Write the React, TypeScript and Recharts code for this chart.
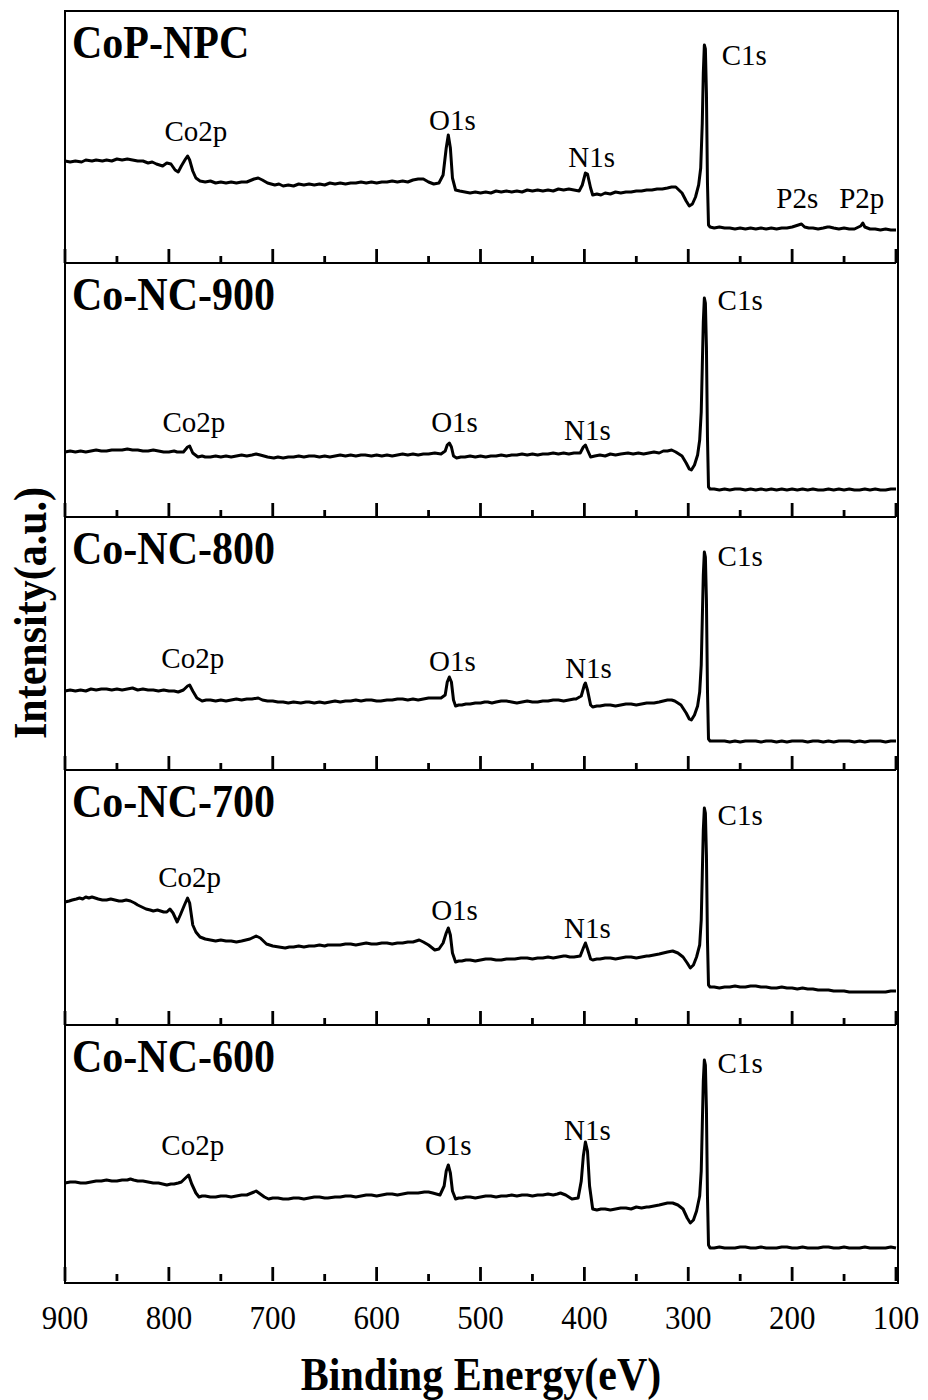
import React from 'react';
import { LineChart, Line, XAxis, YAxis, ReferenceDot } from 'recharts';

// [binding energy (eV), intensity (a.u.)]
type Pt = [number, number];
type Peak = [string, number, number];

const copNpc: Pt[] = [
  [900, 102], [895, 101], [890, 102], [884, 101], [880, 103], [874, 102], [870, 103], [864, 102],
  [860, 103], [855, 102], [850, 104], [845, 103], [840, 104], [835, 103], [830, 102], [825, 102],
  [820, 100], [816, 101], [812, 99], [806, 97], [802, 100], [798, 99], [794, 93], [791, 91],
  [788, 97], [784, 104], [782, 107], [780, 103], [777, 92], [774, 85], [770, 82], [765, 81],
  [760, 82], [755, 80], [750, 81], [745, 80], [740, 81], [735, 80], [730, 81], [725, 81],
  [718, 84], [714, 85], [710, 83], [705, 80], [698, 78], [694, 79], [690, 77], [685, 78],
  [680, 77], [675, 79], [670, 78], [665, 79], [660, 78], [655, 79], [650, 78], [645, 80],
  [640, 79], [635, 80], [630, 79], [625, 80], [620, 80], [615, 81], [610, 80], [605, 81],
  [600, 80], [595, 81], [590, 81], [585, 82], [580, 81], [575, 82], [570, 81], [565, 83],
  [560, 84], [555, 84], [550, 81], [545, 79], [540, 80], [536, 88], [533, 115], [531, 128],
  [529, 115], [527, 85], [524, 73], [520, 72], [515, 71], [510, 70], [505, 71], [500, 70],
  [495, 71], [490, 70], [485, 72], [480, 71], [475, 72], [470, 71], [465, 72], [460, 71],
  [455, 73], [450, 72], [445, 73], [440, 72], [435, 73], [430, 72], [425, 74], [420, 73],
  [415, 74], [410, 73], [405, 72], [402, 78], [399, 90], [397, 89], [394, 75], [392, 68],
  [388, 69], [384, 68], [380, 70], [375, 69], [370, 71], [365, 70], [360, 71], [355, 71],
  [350, 72], [345, 72], [340, 73], [335, 73], [330, 74], [325, 74], [320, 75], [316, 76],
  [312, 76], [306, 70], [302, 62], [299, 57], [296, 59], [293, 66], [290, 78], [288, 95],
  [286.5, 140], [285.5, 190], [284.5, 218], [283.5, 214], [282.5, 170], [281.5, 80],
  [280.5, 38], [279, 36], [275, 35], [270, 36], [265, 35], [260, 35], [255, 34], [250, 35],
  [245, 34], [240, 35], [235, 34], [230, 35], [225, 34], [220, 35], [215, 34], [210, 35],
  [205, 35], [200, 36], [194, 38], [191, 39], [188, 36], [184, 35], [180, 35], [175, 34],
  [170, 35], [166, 36], [164, 36], [160, 35], [155, 34], [150, 35], [145, 34], [140, 34],
  [134, 37], [132, 40], [130, 36], [125, 34], [120, 34], [115, 33], [110, 34], [105, 33],
  [100, 33],
];

const coNc900: Pt[] = [
  [900, 65], [895, 66], [890, 65], [885, 66], [880, 65], [875, 66], [870, 67], [865, 66],
  [860, 66], [855, 67], [850, 67], [845, 67], [840, 68], [835, 67], [830, 67], [825, 66],
  [820, 66], [815, 67], [810, 66], [805, 65], [800, 65], [795, 66], [792, 65], [786, 65],
  [782, 70], [780, 71], [777, 64], [772, 60], [768, 61], [765, 60], [760, 60], [755, 61],
  [750, 60], [745, 61], [740, 60], [735, 61], [730, 62], [725, 61], [720, 62], [716, 63],
  [712, 62], [705, 60], [699, 59], [695, 60], [690, 59], [685, 60], [680, 60], [675, 61],
  [670, 60], [665, 61], [660, 61], [655, 60], [650, 61], [645, 60], [640, 61], [635, 62],
  [630, 61], [625, 62], [620, 61], [615, 62], [611, 62], [605, 61], [600, 62], [595, 61],
  [590, 62], [585, 61], [580, 62], [575, 63], [570, 62], [565, 63], [560, 62], [555, 63],
  [550, 63], [544, 64], [538, 63], [534, 66], [532, 72], [530, 74], [528, 70], [526, 61],
  [523, 59], [519, 60], [515, 60], [510, 61], [505, 60], [500, 61], [495, 60], [490, 61],
  [485, 61], [480, 62], [475, 61], [470, 62], [465, 62], [460, 63], [455, 62], [450, 63],
  [445, 62], [440, 63], [435, 63], [430, 64], [425, 63], [420, 64], [415, 63], [410, 64],
  [404, 64], [401, 70], [399, 72], [397, 67], [394, 60], [390, 61], [385, 62], [380, 61],
  [375, 63], [370, 62], [365, 63], [358, 64], [353, 63], [348, 64], [343, 63], [338, 64],
  [333, 65], [328, 64], [324, 66], [320, 66], [316, 67], [312, 65], [306, 61], [302, 54],
  [299, 48], [297, 47], [294, 52], [291, 62], [289, 77], [287.5, 105], [286.5, 150],
  [285.5, 195], [284.5, 219], [283.5, 214], [282.5, 170], [281.5, 80], [280.5, 30], [279, 28],
  [275, 28], [270, 27], [265, 28], [260, 27], [255, 28], [250, 28], [245, 27], [240, 28],
  [235, 27], [230, 28], [225, 27], [220, 28], [215, 27], [210, 28], [205, 27], [200, 28],
  [195, 27], [190, 28], [185, 27], [180, 28], [175, 27], [170, 27], [165, 28], [160, 27],
  [155, 28], [150, 27], [145, 28], [140, 27], [135, 27], [130, 28], [125, 27], [120, 28],
  [115, 27], [110, 27], [105, 28], [100, 28],
];

const coNc800: Pt[] = [
  [900, 79], [895, 80], [890, 79], [885, 80], [880, 79], [875, 81], [870, 80], [865, 81],
  [860, 81], [855, 80], [850, 81], [845, 80], [840, 81], [835, 82], [830, 80], [825, 81],
  [820, 80], [815, 80], [810, 79], [805, 80], [800, 79], [795, 79], [791, 78], [786, 80],
  [782, 84], [780, 85], [777, 79], [773, 72], [768, 69], [764, 70], [760, 70], [755, 69],
  [750, 70], [745, 69], [740, 70], [735, 71], [730, 70], [725, 71], [720, 71], [714, 72],
  [710, 70], [705, 69], [700, 69], [695, 68], [690, 68], [685, 67], [680, 68], [673, 67],
  [668, 68], [665, 68], [660, 67], [655, 68], [650, 67], [645, 68], [640, 69], [635, 68],
  [630, 69], [625, 69], [620, 70], [615, 69], [610, 70], [605, 70], [600, 69], [596, 69],
  [590, 70], [585, 70], [580, 71], [575, 71], [570, 70], [565, 71], [560, 70], [555, 71],
  [550, 72], [544, 72], [538, 72], [534, 75], [532, 88], [530, 93], [528, 88], [526, 70],
  [524, 64], [521, 65], [518, 65], [514, 66], [510, 66], [505, 67], [500, 67], [496, 68],
  [493, 68], [489, 67], [485, 68], [480, 69], [475, 69], [470, 68], [465, 67], [460, 68],
  [455, 69], [450, 68], [445, 68], [440, 69], [435, 69], [430, 70], [425, 70], [420, 69],
  [415, 70], [410, 71], [408, 71], [403, 74], [400, 85], [399, 87], [397, 80], [394, 65],
  [392, 63], [388, 64], [385, 64], [380, 65], [375, 65], [370, 64], [365, 65], [360, 66],
  [355, 66], [350, 65], [345, 66], [340, 67], [338, 67], [333, 67], [328, 68], [324, 69],
  [320, 70], [316, 70], [313, 69], [307, 65], [302, 57], [299, 51], [297, 50], [294, 55],
  [291, 64], [289, 78], [287.5, 105], [286.5, 150], [285.5, 195], [284.5, 218], [283.5, 213],
  [282.5, 170], [281.5, 80], [280.5, 31], [279, 29], [275, 29], [270, 29], [265, 29],
  [260, 28], [255, 29], [250, 28], [245, 29], [240, 29], [235, 29], [230, 28], [225, 29],
  [220, 29], [215, 28], [210, 29], [205, 28], [200, 29], [195, 29], [190, 29], [185, 28],
  [180, 29], [175, 29], [170, 28], [165, 29], [160, 28], [155, 29], [150, 29], [145, 29],
  [140, 28], [135, 29], [130, 28], [125, 29], [120, 29], [115, 29], [110, 28], [105, 29],
  [100, 29],
];

const coNc700: Pt[] = [
  [900, 123], [896, 124], [893, 125], [889, 126], [886, 127], [883, 126], [880, 128],
  [877, 127], [874, 128], [871, 127], [868, 126], [864, 125], [860, 125], [856, 126],
  [852, 125], [848, 124], [845, 124], [841, 125], [837, 124], [833, 122], [830, 120],
  [826, 118], [822, 116], [818, 115], [815, 114], [811, 115], [808, 114], [805, 113],
  [802, 113], [799, 116], [796, 112], [792, 103], [789, 110], [785, 120], [782, 127],
  [780, 122], [777, 100], [774, 93], [770, 88], [765, 86], [760, 85], [755, 84], [750, 85],
  [745, 84], [740, 84], [735, 83], [730, 84], [726, 85], [722, 86], [716, 89], [712, 87],
  [706, 81], [700, 79], [694, 78], [688, 77], [684, 78], [680, 78], [675, 79], [670, 78],
  [665, 79], [660, 79], [655, 80], [650, 79], [647, 80], [641, 80], [635, 80], [630, 81],
  [625, 81], [620, 80], [615, 81], [610, 82], [605, 81], [600, 81], [595, 82], [590, 82],
  [585, 81], [580, 82], [575, 82], [570, 83], [565, 83], [559, 85], [555, 83], [550, 80],
  [544, 75], [540, 76], [536, 82], [533, 92], [531, 97], [529, 90], [527, 72], [524, 63],
  [521, 64], [518, 64], [514, 65], [510, 65], [505, 64], [500, 65], [495, 66], [490, 66],
  [485, 65], [480, 65], [475, 66], [470, 66], [467, 66], [461, 67], [455, 67], [450, 66],
  [445, 67], [440, 67], [435, 68], [430, 67], [425, 68], [420, 69], [418, 69], [414, 68],
  [410, 68], [404, 69], [401, 77], [399, 82], [397, 76], [394, 66], [392, 65], [388, 66],
  [385, 66], [380, 67], [375, 67], [370, 66], [365, 67], [360, 68], [355, 68], [350, 67],
  [345, 68], [340, 69], [338, 69], [333, 70], [328, 71], [324, 72], [320, 73], [315, 74],
  [310, 72], [305, 68], [301, 62], [298, 57], [295, 60], [292, 68], [289, 80], [287.5, 105],
  [286.5, 150], [285.5, 195], [284.5, 217], [283.5, 212], [282.5, 170], [281.5, 85],
  [280.5, 40], [279, 38], [275, 38], [270, 37], [265, 38], [260, 38], [255, 39], [250, 38],
  [245, 38], [240, 39], [235, 39], [230, 38], [225, 38], [220, 37], [215, 37], [210, 38],
  [205, 37], [200, 37], [195, 36], [190, 37], [185, 36], [180, 36], [175, 35], [170, 35],
  [165, 35], [160, 34], [155, 34], [150, 34], [145, 33], [140, 33], [135, 33], [130, 33],
  [125, 33], [120, 33], [115, 33], [110, 33], [105, 34], [100, 34],
];

const coNc600: Pt[] = [
  [900, 98], [895, 99], [890, 99], [885, 98], [880, 98], [875, 99], [870, 100], [865, 100],
  [860, 101], [855, 100], [850, 100], [845, 101], [840, 101], [837, 102], [834, 101],
  [830, 100], [825, 100], [820, 99], [815, 98], [810, 98], [806, 97], [802, 96], [798, 97],
  [795, 97], [791, 98], [788, 99], [784, 103], [781, 106], [778, 97], [774, 88], [771, 84],
  [768, 85], [765, 85], [760, 84], [755, 84], [750, 85], [745, 85], [740, 84], [735, 85],
  [730, 86], [725, 86], [718, 89], [716, 90], [712, 87], [708, 84], [704, 82], [700, 83],
  [695, 83], [690, 82], [685, 82], [680, 83], [675, 83], [670, 82], [665, 83], [660, 84],
  [655, 84], [650, 83], [647, 83], [640, 84], [635, 84], [630, 85], [625, 85], [620, 84],
  [615, 85], [610, 86], [605, 86], [600, 85], [595, 86], [590, 87], [585, 87], [580, 86],
  [575, 87], [570, 88], [565, 88], [560, 88], [554, 89], [550, 89], [546, 88], [539, 86],
  [535, 95], [533, 110], [531, 116], [529, 108], [527, 90], [524, 82], [521, 83], [518, 83],
  [514, 84], [510, 84], [505, 83], [500, 84], [495, 85], [490, 85], [485, 84], [480, 85],
  [475, 85], [470, 86], [465, 85], [460, 86], [455, 86], [450, 85], [445, 86], [440, 86],
  [435, 87], [430, 86], [426, 87], [423, 88], [418, 86], [412, 82], [406, 83], [403, 100],
  [401, 125], [399, 139], [397, 130], [395, 95], [392, 72], [388, 71], [384, 72], [380, 72],
  [375, 71], [370, 72], [365, 73], [360, 73], [355, 72], [350, 74], [345, 73], [340, 74],
  [338, 74], [333, 75], [328, 76], [324, 77], [320, 78], [315, 78], [310, 76], [305, 72],
  [301, 63], [298, 58], [295, 61], [292, 70], [289, 85], [287.5, 110], [286.5, 155],
  [285.5, 200], [284.5, 221], [283.5, 216], [282.5, 172], [281.5, 85], [280.5, 36], [279, 33],
  [275, 33], [270, 34], [265, 33], [260, 33], [255, 33], [250, 34], [245, 34], [240, 33],
  [235, 33], [230, 34], [225, 33], [220, 33], [215, 33], [210, 34], [205, 34], [200, 33],
  [195, 33], [190, 34], [185, 33], [180, 33], [175, 33], [170, 34], [165, 34], [160, 33],
  [155, 33], [150, 34], [145, 33], [140, 33], [135, 33], [130, 34], [125, 33], [120, 33],
  [115, 33], [110, 33], [105, 34], [100, 33],
];

// peak annotations: [label, energy, intensity] where the text is centred
const copNpcPeaks: Peak[] = [
  ['Co2p', 774, 132], ['O1s', 527, 143], ['N1s', 393, 106], ['C1s', 246, 208],
  ['P2s', 195, 65], ['P2p', 133, 65],
];
const coNc900Peaks: Peak[] = [
  ['Co2p', 776, 95], ['O1s', 525, 95], ['N1s', 397, 87], ['C1s', 250, 217],
];
const coNc800Peaks: Peak[] = [
  ['Co2p', 777, 112], ['O1s', 527, 109], ['N1s', 396, 102], ['C1s', 250, 214],
];
const coNc700Peaks: Peak[] = [
  ['Co2p', 780, 148], ['O1s', 525, 115], ['N1s', 397, 97], ['C1s', 250, 210],
];
const coNc600Peaks: Peak[] = [
  ['Co2p', 777, 136], ['O1s', 531, 136], ['N1s', 397, 151], ['C1s', 250, 218],
];

const sampleNames = ['CoP-NPC', 'Co-NC-900', 'Co-NC-800', 'Co-NC-700', 'Co-NC-600'];
const energyTicks = [900, 850, 800, 750, 700, 650, 600, 550, 500, 450, 400, 350, 300, 250, 200, 150, 100];

const spectra = [copNpc, coNc900, coNc800, coNc700, coNc600];
const peakSets = [copNpcPeaks, coNc900Peaks, coNc800Peaks, coNc700Peaks, coNc600Peaks];

const SERIF = '"Liberation Serif", "Times New Roman", serif';
const PANEL_EDGES = [11, 263, 517, 770, 1025, 1281];
const PLOT_LEFT = 65;
const PLOT_RIGHT = 896;
const LINE_W = 2.8;
const TRACE_W = 3;
const AXIS_BAND = 75;

const EnergyTick = (props: any) => {
  const { x, y, payload, showLabel } = props;
  const major = payload.value % 100 === 0;
  return (
    <g>
      <line x1={x} x2={x} y1={y} y2={y - (major ? 14 : 7)} stroke="#000" strokeWidth={LINE_W} />
      {showLabel && major && (
        <text
          transform={`translate(${x},${y + 48}) scale(1,1.12)`}
          textAnchor="middle"
          fontFamily={SERIF}
          fontSize={31}
          fill="#000"
        >
          {payload.value}
        </text>
      )}
    </g>
  );
};

const SpectrumPanel = ({ index }: { index: number }) => {
  const top = PANEL_EDGES[index];
  const height = PANEL_EDGES[index + 1] - top;
  const last = index === spectra.length - 1;
  const band = last ? AXIS_BAND : 1;
  const data = spectra[index].map(([e, i]) => ({ e, i }));
  return (
    <div style={{ position: 'absolute', left: 0, top }}>
      <LineChart
        width={928}
        height={height + band}
        data={data}
        margin={{ top: 0, right: 928 - PLOT_RIGHT, bottom: 0, left: PLOT_LEFT }}
      >
        <XAxis
          dataKey="e"
          type="number"
          domain={[100, 900]}
          reversed
          ticks={energyTicks}
          interval={0}
          tickSize={0}
          tickMargin={0}
          axisLine={false}
          tickLine={false}
          height={band}
          tick={(p: any) => <EnergyTick {...p} showLabel={last} />}
        />
        <YAxis hide type="number" domain={[0, height]} />
        <Line
          dataKey="i"
          type="linear"
          stroke="#000"
          strokeWidth={TRACE_W}
          strokeLinejoin="round"
          dot={false}
          isAnimationActive={false}
        />
        {peakSets[index].map(([label, e, i]) => (
          <ReferenceDot
            key={label}
            x={e}
            y={i}
            r={0}
            ifOverflow="visible"
            label={{ value: label, position: 'center', fontSize: 29, fontFamily: SERIF, fill: '#000' }}
          />
        ))}
      </LineChart>
      <div
        style={{
          position: 'absolute',
          left: 72,
          top: 10,
          fontFamily: SERIF,
          fontWeight: 'bold',
          fontSize: 42,
          lineHeight: '44px',
          color: '#000',
          whiteSpace: 'nowrap',
          transform: 'scaleY(1.1)',
          transformOrigin: 'left center',
        }}
      >
        {sampleNames[index]}
      </div>
    </div>
  );
};

export default function App() {
  const frameH = PANEL_EDGES[PANEL_EDGES.length - 1] - PANEL_EDGES[0];
  return (
    <div style={{ position: 'absolute', left: 0, top: 0, width: 928, height: 1400, background: '#fff' }}>
      {spectra.map((_, idx) => (
        <SpectrumPanel key={idx} index={idx} />
      ))}
      {/* frame and panel separators */}
      <div
        style={{
          position: 'absolute',
          left: PLOT_LEFT - LINE_W / 2,
          top: PANEL_EDGES[0] - LINE_W / 2,
          width: PLOT_RIGHT - PLOT_LEFT,
          height: frameH,
          border: `${LINE_W}px solid #000`,
        }}
      />
      {PANEL_EDGES.slice(1, -1).map((y) => (
        <div
          key={y}
          style={{
            position: 'absolute',
            left: PLOT_LEFT,
            top: y - LINE_W / 2,
            width: PLOT_RIGHT - PLOT_LEFT,
            height: LINE_W,
            background: '#000',
          }}
        />
      ))}
      <div
        style={{
          position: 'absolute',
          left: 481,
          top: 1375,
          transform: 'translate(-50%, -50%) scaleY(1.1)',
          fontFamily: SERIF,
          fontWeight: 'bold',
          fontSize: 42,
          whiteSpace: 'nowrap',
        }}
      >
        Binding Energy(eV)
      </div>
      <div
        style={{
          position: 'absolute',
          left: 31,
          top: 613,
          transform: 'translate(-50%, -50%) rotate(-90deg) scaleY(1.1)',
          fontFamily: SERIF,
          fontWeight: 'bold',
          fontSize: 42,
          whiteSpace: 'nowrap',
        }}
      >
        Intensity(a.u.)
      </div>
    </div>
  );
}
